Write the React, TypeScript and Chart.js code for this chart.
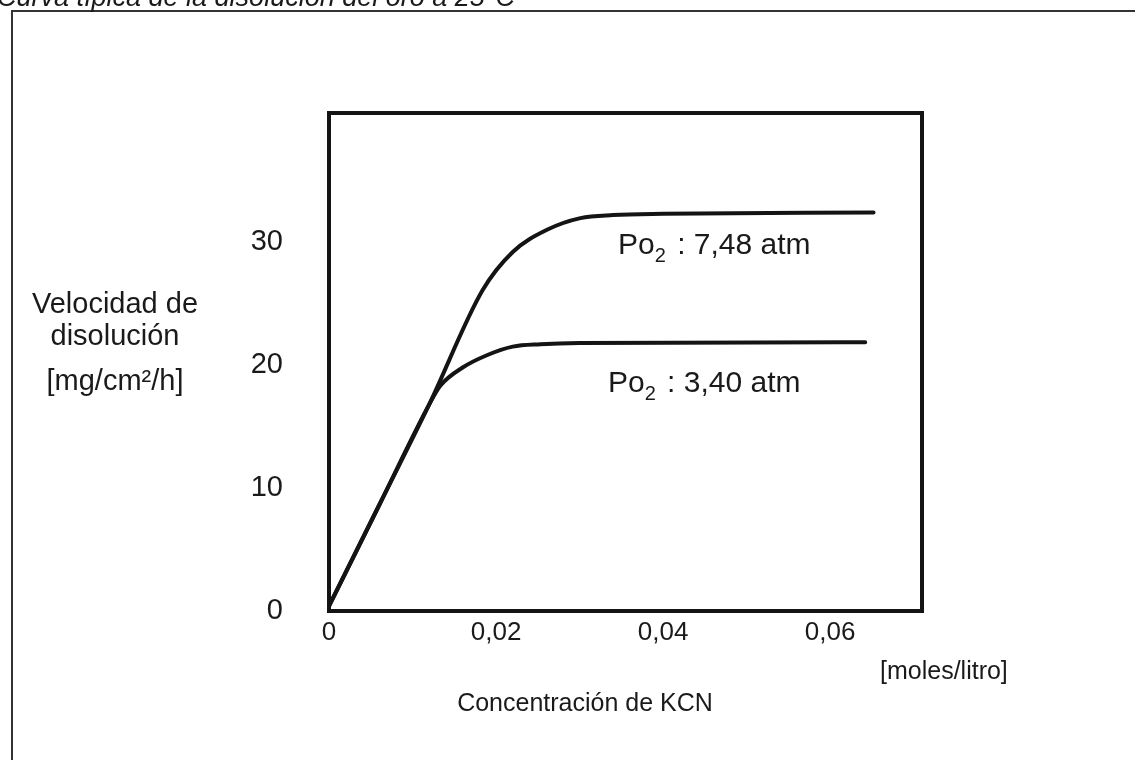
import React, { useEffect, useRef } from "react";
import { Chart, registerables } from "chart.js";

Chart.register(...registerables);

// ---- Data ----
const kcnHigh = [0, 0.006, 0.012, 0.0184, 0.022, 0.0261, 0.0301, 0.034, 0.04, 0.0652];
const velHigh = [0.4, 8.6, 16.8, 26.1, 29.2, 31.0, 31.95, 32.2, 32.3, 32.4];
const kcnLow = [0, 0.006, 0.012, 0.0133, 0.016, 0.0189, 0.022, 0.0253, 0.03, 0.0642];
const velLow = [0.4, 8.6, 16.8, 18.3, 19.8, 20.8, 21.5, 21.7, 21.8, 21.85];

const xTicks = [0, 0.02, 0.04, 0.06];
const yTicks = [0, 10, 20, 30];

const seriesLabels = ["7,48 atm", "3,40 atm"];
const titleText = "Curva típica de la disolución del oro a 25°C";
const yTitleLines = ["Velocidad de", "disolución", "[mg/cm²/h]"];
const xTitleText = "Concentración de KCN";
const xUnitText = "[moles/litro]";

const FONT = "'Liberation Sans', Arial, Helvetica, sans-serif";
const INK = "#141414";

function fmtX(v: number) {
  if (v === 0) return "0";
  return v.toFixed(2).replace(".", ",");
}

const decor = {
  id: "decor",
  beforeDraw(chart: any) {
    const ctx = chart.ctx;
    ctx.save();
    ctx.fillStyle = "#ffffff";
    ctx.fillRect(0, 0, chart.width, chart.height);
    // outer frame
    ctx.strokeStyle = "#333";
    ctx.lineWidth = 2;
    ctx.beginPath();
    ctx.moveTo(12, chart.height);
    ctx.lineTo(12, 11);
    ctx.lineTo(chart.width, 11);
    ctx.stroke();
    // cut-off title
    ctx.fillStyle = "#1a1a1a";
    ctx.font = `italic 27px ${FONT}`;
    ctx.textBaseline = "alphabetic";
    ctx.textAlign = "left";
    ctx.fillText(titleText, -3, 6);
    ctx.restore();
  },
  afterDraw(chart: any) {
    const ctx = chart.ctx;
    const a = chart.chartArea;
    const xs = chart.scales.x;
    const ys = chart.scales.y;
    ctx.save();
    // plot frame
    ctx.strokeStyle = INK;
    ctx.lineWidth = 4;
    ctx.strokeRect(a.left, a.top, a.right - a.left, a.bottom - a.top);

    ctx.fillStyle = "#1a1a1a";
    ctx.textBaseline = "middle";

    // Y axis title (horizontal, three lines)
    ctx.font = `29px ${FONT}`;
    ctx.textAlign = "center";
    const yc = [305, 337, 382];
    yTitleLines.forEach((t, i) => ctx.fillText(t, 115, yc[i]));

    // X axis title and unit
    ctx.font = `25px ${FONT}`;
    ctx.fillText(xTitleText, 585, 704);
    ctx.textAlign = "left";
    ctx.fillText(xUnitText, 880, 672);

    // series annotations with subscript
    const anchors = [
      { x: 0.0346, y: 29.0 },
      { x: 0.0334, y: 17.8 },
    ];
    ctx.textBaseline = "alphabetic";
    anchors.forEach((p, i) => {
      let px = xs.getPixelForValue(p.x);
      const py = ys.getPixelForValue(p.y);
      ctx.font = `30px ${FONT}`;
      ctx.fillText("Po", px, py);
      px += ctx.measureText("Po").width;
      ctx.font = `20px ${FONT}`;
      ctx.fillText("2", px, py + 8);
      px += ctx.measureText("2").width + 3;
      ctx.font = `30px ${FONT}`;
      ctx.fillText(" : " + seriesLabels[i], px, py);
    });
    ctx.restore();
  },
};

export default function App() {
  const ref = useRef<HTMLCanvasElement | null>(null);

  useEffect(() => {
    if (!ref.current) return;
    const chart = new Chart(ref.current, {
      type: "line",
      data: {
        datasets: [
          {
            label: seriesLabels[0],
            data: kcnHigh.map((x, i) => ({ x, y: velHigh[i] })),
            borderColor: INK,
            borderWidth: 4,
            pointRadius: 0,
            cubicInterpolationMode: "monotone",
            borderCapStyle: "round",
            fill: false,
          },
          {
            label: seriesLabels[1],
            data: kcnLow.map((x, i) => ({ x, y: velLow[i] })),
            borderColor: INK,
            borderWidth: 4,
            pointRadius: 0,
            cubicInterpolationMode: "monotone",
            borderCapStyle: "round",
            fill: false,
          },
        ],
      },
      options: {
        animation: false,
        responsive: true,
        maintainAspectRatio: false,
        layout: { padding: { left: 249, top: 113, right: 213, bottom: 99 } },
        plugins: {
          legend: { display: false },
          tooltip: { enabled: false },
          title: { display: false },
        },
        scales: {
          x: {
            type: "linear",
            min: 0,
            max: 0.071,
            grid: { display: false, drawTicks: false },
            border: { display: false },
            afterBuildTicks: (s: any) => {
              s.ticks = xTicks.map((v) => ({ value: v }));
            },
            afterFit: (s: any) => {
              s.height = 50;
            },
            ticks: {
              padding: 6,
              color: "#1a1a1a",
              font: { family: FONT, size: 26 },
              maxRotation: 0,
              autoSkip: false,
              callback: (v: any) => fmtX(Number(v)),
            },
          },
          y: {
            type: "linear",
            min: 0,
            max: 40.5,
            grid: { display: false, drawTicks: false },
            border: { display: false },
            afterBuildTicks: (s: any) => {
              s.ticks = yTicks.map((v) => ({ value: v }));
            },
            afterFit: (s: any) => {
              s.width = 80;
            },
            ticks: {
              padding: 46,
              color: "#1a1a1a",
              font: { family: FONT, size: 29 },
              autoSkip: false,
              callback: (v: any) => String(v),
            },
          },
        },
      },
      plugins: [decor],
    });
    return () => chart.destroy();
  }, []);

  return (
    <div style={{ position: "absolute", left: 0, top: 0, width: 1135, height: 760, background: "#fff" }}>
      <canvas ref={ref} />
    </div>
  );
}
